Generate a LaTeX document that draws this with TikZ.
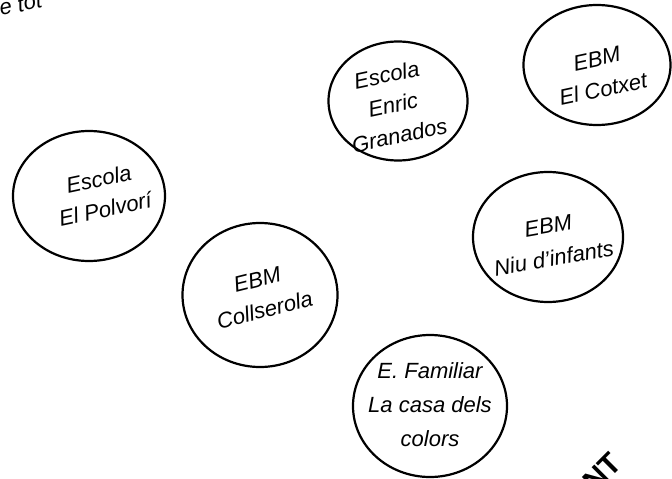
\documentclass[tikz,border=0pt]{standalone}
\usepackage{fontspec}
\setmainfont{Liberation Sans}
\usetikzlibrary{shapes.geometric}

\begin{document}
\begin{tikzpicture}[x=1pt,y=-1pt]

\tikzset{school/.style = {shape=ellipse,draw,line width=2.2pt,inner sep=0pt}}
\tikzset{schoolname/.style = {align=center,inner sep=0pt,font=\fontsize{22}{31}\selectfont\itshape}}
\useasboundingbox (0,0) rectangle (672,479);
\clip (0,0) rectangle (672,479);
%circles
\node[school, minimum width=152, minimum height=130] (polvori) at (89,196) {};
\node[school, minimum width=139, minimum height=119] (granados) at (398,101) {};
\node[school, minimum width=147, minimum height=120] (cotxet) at (597,65) {};
\node[school, minimum width=150, minimum height=130] (niu) at (548,237) {};
\node[school, minimum width=155, minimum height=144] (collserola) at (260,295) {};
\node[school, minimum width=154, minimum height=142] (familiar) at (430,406) {};
%names
\node[schoolname, rotate=12] (polvoritxt) at (102,194) {Escola\\El Polvorí};
\node[schoolname, rotate=12] (granadostxt) at (393,105) {Escola\\Enric\\Granados};
\node[schoolname, rotate=12] (cotxettxt) at (600,74) {EBM\\El Cotxet};
\node[schoolname, rotate=10, font=\fontsize{22}{33}\selectfont\itshape] (niutxt) at (551,242) {EBM\\Niu d’infants};
\node[schoolname, rotate=14] (collserolatxt) at (261,295) {EBM\\Collserola};
\node[schoolname, font=\fontsize{22}{34}\selectfont\itshape] (familiartxt) at (430,405) {E. Familiar\\La casa dels\\colors};
%cut off texts
\node[schoolname, anchor=base west, rotate=12] (tot) at (1,16) {e tot};
\node[rotate=45, font=\fontsize{30}{30}\selectfont\bfseries, inner sep=0pt] (nt) at (602,472) {NT};

\end{tikzpicture}
\end{document}
